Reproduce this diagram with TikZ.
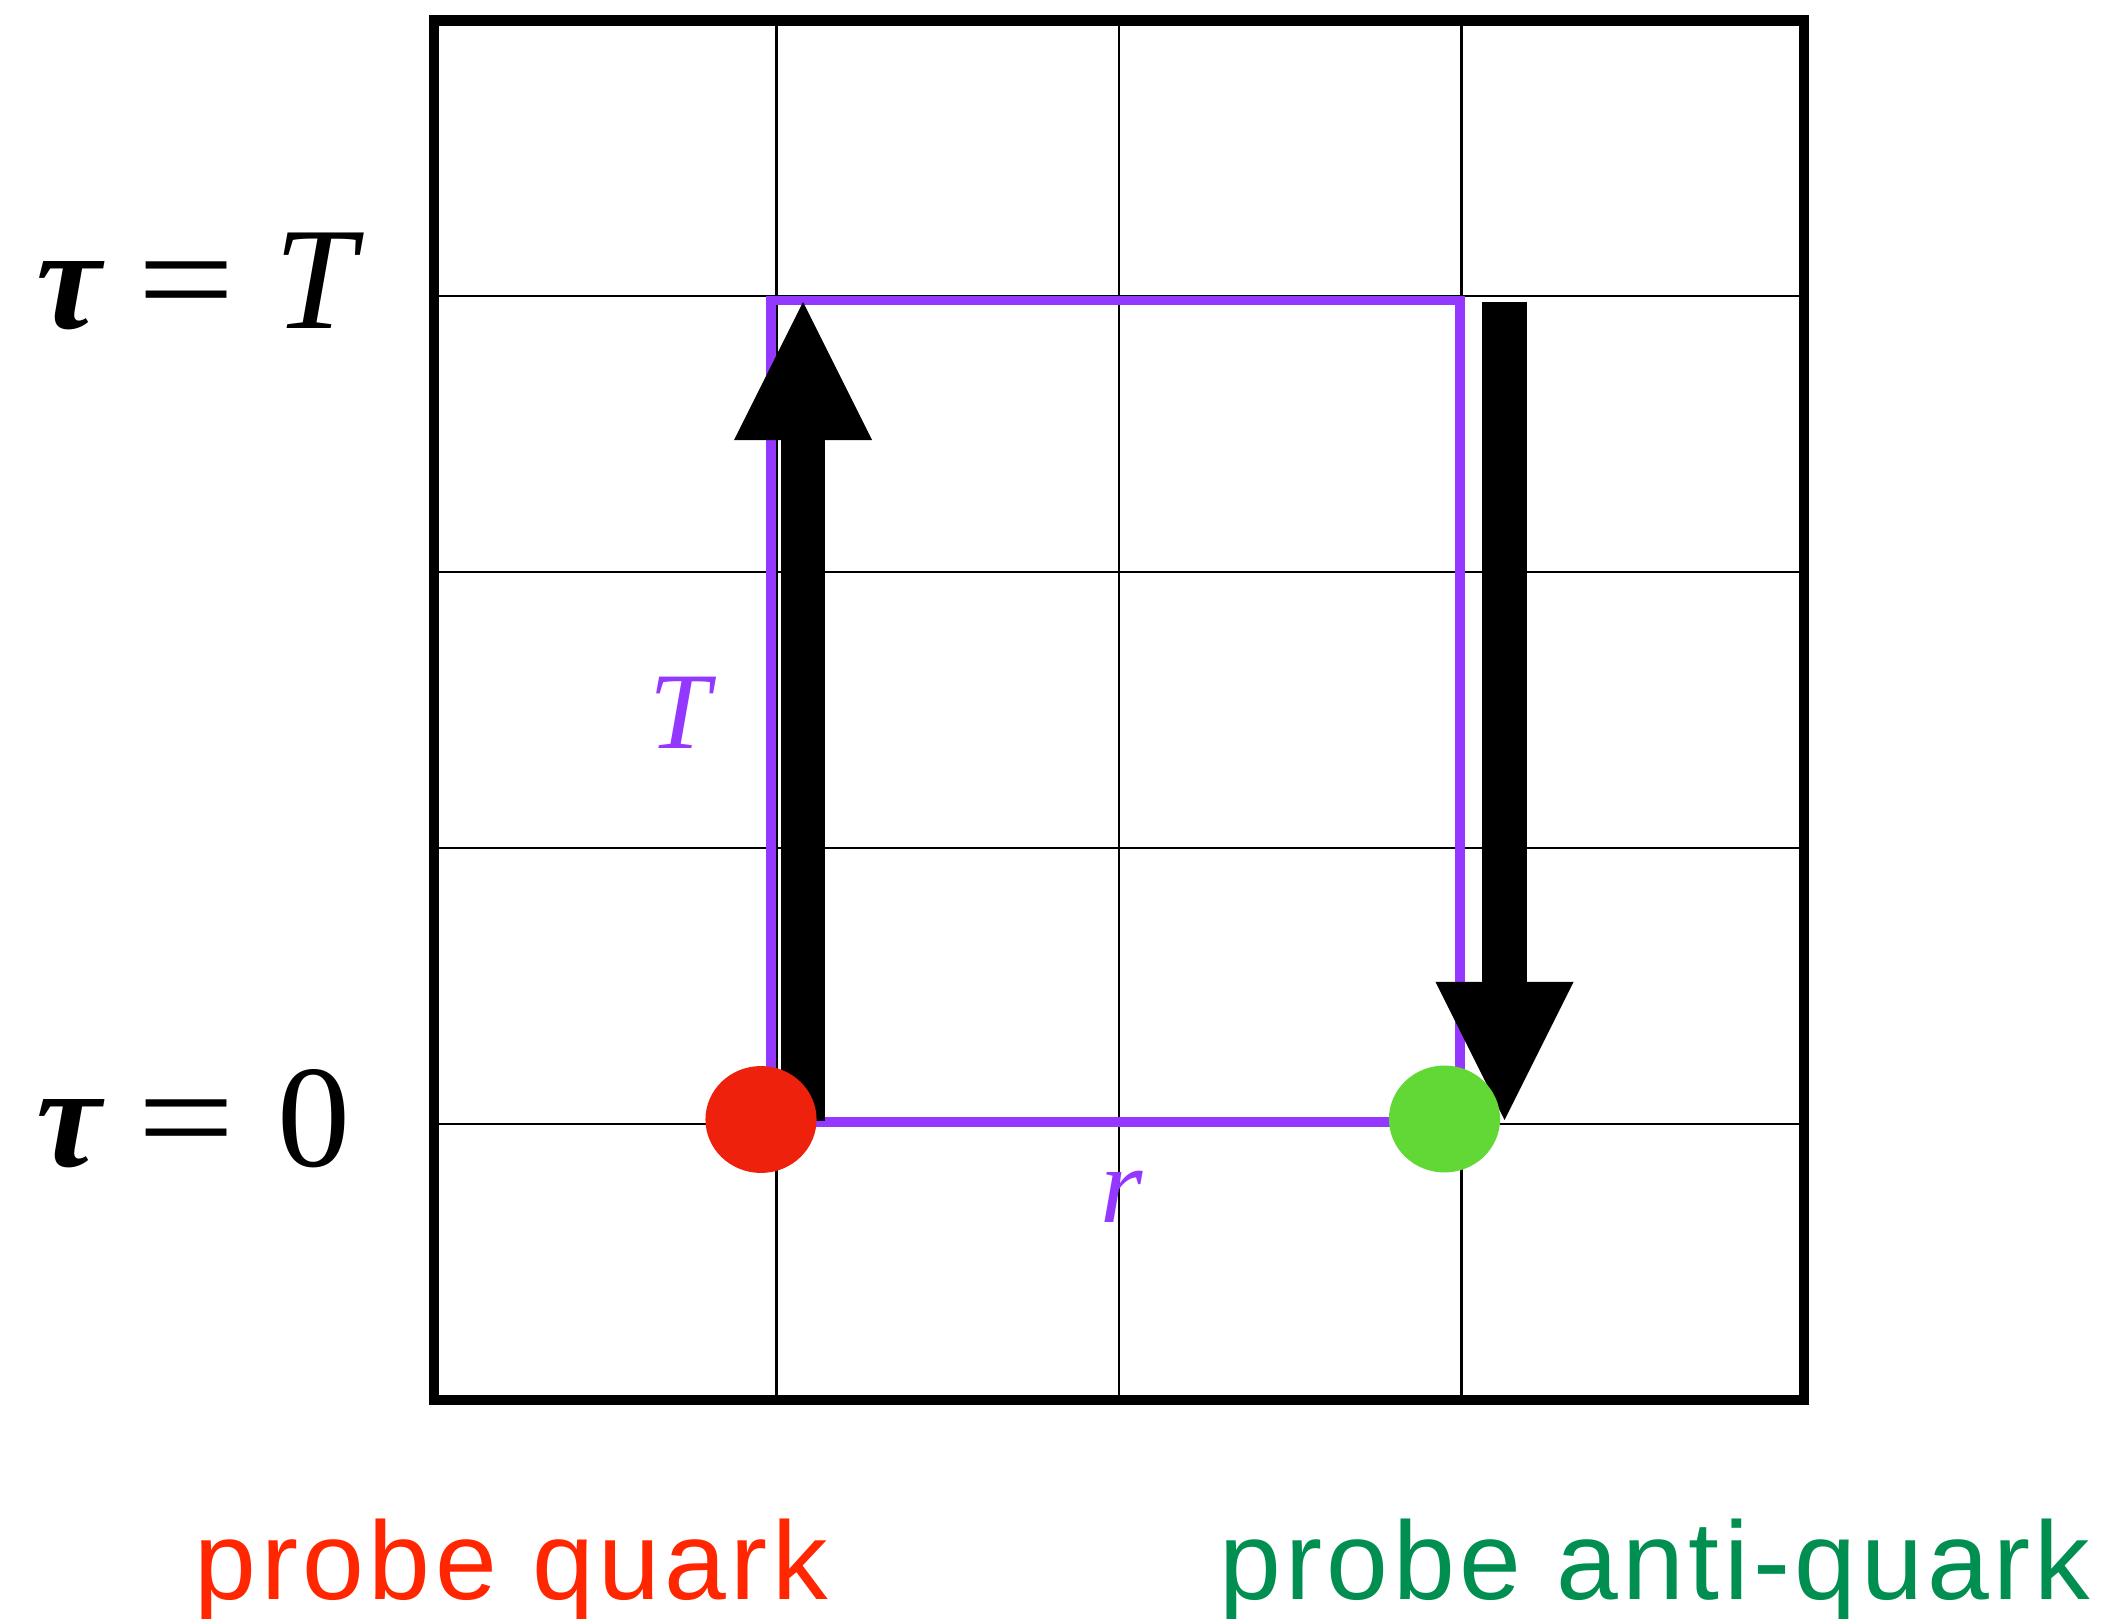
\documentclass[tikz,border=0pt]{standalone}
\usepackage{fontspec}
\usepackage{graphicx}
\setmainfont{Liberation Serif}
\setsansfont{Liberation Sans}[LetterSpace=4]
\usetikzlibrary{arrows.meta,shapes.geometric}
\definecolor{grape}{HTML}{9437FF}
\definecolor{quarkred}{HTML}{EE220C}
\definecolor{quarkgreen}{HTML}{61D836}
\definecolor{labelred}{HTML}{FF2600}
\definecolor{labelgreen}{HTML}{008F51}
\newcommand{\taueq}{{\bfseries\itshape τ}\hspace{0.245em}\scalebox{1.19}[1]{=}}

\begin{document}
\begin{tikzpicture}[x=0.01cm,y=-0.01cm,
frame/.style={line width=2.85pt},
gridline/.style={line width=0.6pt},
wloop/.style={draw=grape,line width=2.8pt},
flow/.style={-{Triangle[length=39.3pt,width=39.3pt,line width=0pt]},line width=12.66pt},
quark/.style={ellipse,inner sep=0pt,minimum width=31.6pt,minimum height=30.4pt},
tlabel/.style={anchor=base west,inner sep=0pt,font=\fontsize{41.5}{48}\selectfont},
loopl/.style={anchor=base,inner sep=0pt,text=grape,font=\fontsize{31}{36}\selectfont\itshape},
plabel/.style={anchor=base,inner sep=0pt,font=\sffamily\fontsize{31.6}{38}\selectfont}]
\useasboundingbox (0,0) rectangle (2111,1619);
% lattice
\foreach \i in {1,2,3}
  \draw[gridline] ({434+342.5*\i},20.5) -- ({434+342.5*\i},1400);
\foreach \j in {1,...,4}
  \draw[gridline] (434,{20.5+275.9*\j}) -- (1804,{20.5+275.9*\j});
\draw[frame] (434,20.5) rectangle (1804,1400);
% Wilson loop
\draw[wloop] (771,1122) rectangle (1460,300.5);
\node[loopl] (tlen) at (680,749) {T};
\node[loopl] (rlen) at (1122,1222) {r};
% time labels
\node[tlabel] (ttop) at (36,328.5) {\taueq\hspace{0.27em}{\itshape T}};
\node[tlabel] (tzero) at (36,1167) {\taueq\hspace{0.29em}0};
% propagation
\coordinate (qstart) at (803,1121);
\coordinate (qend) at (803,302);
\coordinate (abstart) at (1504.5,302);
\coordinate (abend) at (1504.5,1120);
\draw[flow] (qstart) -- (qend);
\draw[flow] (abstart) -- (abend);
% sources
\node[quark,fill=quarkred] (q) at (761,1119.5) {};
\node[quark,fill=quarkgreen] (qbar) at (1444.5,1119) {};
\node[plabel,text=labelred] (qname) at (511.5,1599) {probe quark};
\node[plabel,text=labelgreen] (qbarname) at (1655,1599) {probe anti-quark};
\end{tikzpicture}
\end{document}
